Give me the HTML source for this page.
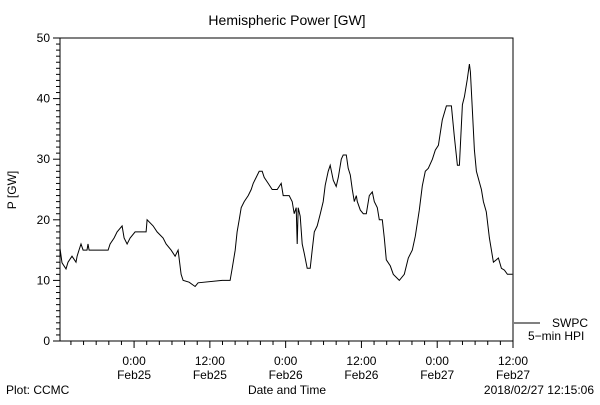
<!DOCTYPE html>
<html><head><meta charset="utf-8"><style>
body{margin:0;background:#fff}
svg text{font-family:"Liberation Sans",sans-serif;font-size:12px;fill:#000}
</style></head><body>
<svg id="chart" width="600" height="400" xmlns="http://www.w3.org/2000/svg">
<text x="287" y="25" text-anchor="middle" font-size="14" style="font-size:14px">Hemispheric Power [GW]</text>
<text transform="translate(16,190) rotate(-90)" text-anchor="middle">P [GW]</text>
<rect x="60" y="38" width="453" height="303" fill="none" stroke="#000" stroke-width="1"/>
<g id="yaxis"></g>
<g id="xaxis"></g>
<path id="series" fill="none" stroke="#000" stroke-width="1"/>
<line x1="514" y1="323" x2="540" y2="323" stroke="#000"/>
<text x="552" y="327">SWPC</text>
<text x="528" y="340">5−min HPI</text>
<text x="287" y="394" text-anchor="middle">Date and Time</text>
<text x="6" y="394">Plot: CCMC</text>
<text x="594" y="394" text-anchor="end">2018/02/27 12:15:06</text>
</svg>
<script>
const hours=[-11.73,-11.41,-10.78,-10.46,-9.83,-9.19,-9.03,-8.72,-8.40,-8.08,-7.45,-7.29,-7.13,-4.12,-3.80,-3.17,-2.69,-1.90,-1.58,-1.11,-0.63,0.16,1.90,2.06,3.01,3.65,4.60,5.07,5.86,6.50,6.97,7.45,7.77,8.72,9.67,10.14,13.95,15.21,15.53,16.01,16.32,16.64,16.96,17.43,18.07,18.54,18.86,19.33,19.81,20.29,20.60,21.24,21.87,22.66,23.30,23.61,24.56,25.04,25.36,25.67,25.83,25.99,26.31,26.62,26.94,27.42,27.89,28.21,28.53,29.00,29.48,29.95,30.27,30.74,31.06,31.54,32.01,32.33,32.81,33.12,33.60,33.91,34.23,34.55,34.87,35.18,35.34,35.82,36.29,36.77,37.24,37.72,38.03,38.51,38.83,39.30,39.62,39.94,40.57,41.05,42.00,42.79,43.42,44.06,44.53,45.17,45.64,46.12,46.59,47.23,47.70,48.18,48.81,49.45,50.24,50.71,51.19,51.51,51.98,52.30,52.77,53.09,53.25,53.57,53.88,54.20,54.68,54.99,55.31,55.78,56.26,56.58,56.89,57.37,57.69,58.16,58.64,59.11,59.90];
const power=[15.3,12.9,11.9,13,14,13,14,15,16,15,15,16,15,15,16,17,18,19,17,16,17,18,18,20,19,18,17,16,15,14,15,11,10,9.7,9,9.6,10,10,12,15,18,20,22,23,24,25,26,27,28,28,27,26,25,25,26,24,24,23,21,22,16,22,20.6,16,14.5,12,12,15,18,19,21,23,25.7,28,29,26.5,25.5,27,30,30.7,30.7,28.5,27.4,25,23,24,23,21.6,21,21,24,24.6,23,22,20,20,17,13.4,12.4,11,10,11,13.7,15,17.3,21.6,25.6,28,28.5,30,31.5,32.3,36.5,38.8,38.8,33.8,29,29,39,40.3,43.2,45.7,44.4,38,31.5,28,26.2,25,23,21.3,17,15,13,13.4,13.7,12,11.7,11,11];
const yTicks=[0,10,20,30,40,50];
const xTickHours=[0,12,24,36,48,60];
const xTickTimes=["0:00","12:00","0:00","12:00","0:00","12:00"];
const xTickDates=["Feb25","Feb25","Feb26","Feb26","Feb27","Feb27"];
const X0=60,X1=513,Y0=341,Y1=38,HMIN=-11.73,HMAX=60,PMAX=50;
const sx=h=>X0+(h-HMIN)/(HMAX-HMIN)*(X1-X0);
const sy=v=>Y0-v/PMAX*(Y0-Y1);
const NS="http://www.w3.org/2000/svg";
function mk(tag,attrs,parent){const e=document.createElementNS(NS,tag);for(const k in attrs)e.setAttribute(k,attrs[k]);parent.appendChild(e);return e;}
const ya=document.getElementById('yaxis');
for(let v=0;v<=PMAX;v+=1){const y=sy(v);const major=v%10===0;
 const t=mk('line',{x1:X0-(major?7:4),x2:X0,y1:y,y2:y,stroke:'#000'},ya);
 
 }
yTicks.forEach(v=>{const t=mk('text',{x:X0-10,y:sy(v)+4,'text-anchor':'end'},ya);t.textContent=v;
 
 });
const xa=document.getElementById('xaxis');
for(let h=-10;h<=HMAX;h+=2){const x=sx(h);const major=h%12===0;
 const t=mk('line',{x1:x,x2:x,y1:Y0,y2:Y0+(major?7:4),stroke:'#000'},xa);
 
 }
xTickHours.forEach((h,i)=>{const a=mk('text',{x:sx(h),y:365,'text-anchor':'middle'},xa);a.textContent=xTickTimes[i];
 
 
 const b=mk('text',{x:sx(h),y:379,'text-anchor':'middle'},xa);b.textContent=xTickDates[i];
 
 });
document.getElementById('series').setAttribute('d',hours.map((h,i)=>(i?'L':'M')+sx(h).toFixed(1)+','+sy(power[i]).toFixed(1)).join(''));
</script>
</body></html>
